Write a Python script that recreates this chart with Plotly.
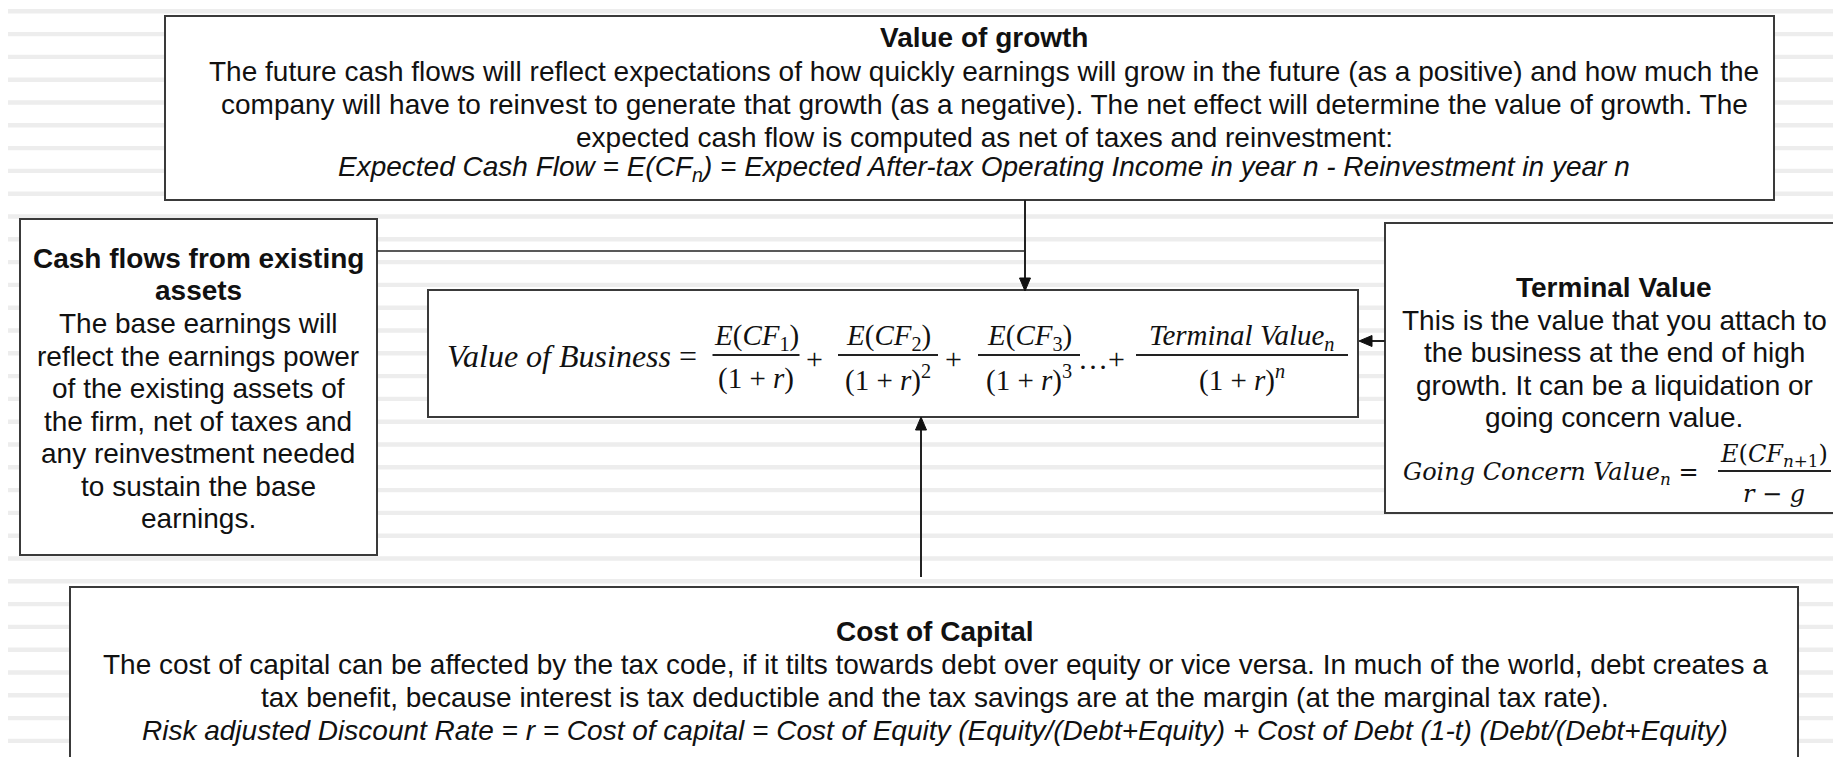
import plotly.graph_objects as go

W, H = 1841, 757

# ---------------- text content ----------------
growth_title = "Value of growth"
growth_lines = [
    "The future cash flows will reflect expectations of how quickly earnings will grow in the future (as a positive) and how much the",
    "company will have to reinvest to generate that growth (as a negative). The net effect will determine the value of growth. The",
    "expected cash flow is computed as net of taxes and reinvestment:",
]
growth_formula = "Expected Cash Flow = E(CF<sub>n</sub>) = Expected After-tax Operating Income in year n - Reinvestment in year n"

existing_title = ["Cash flows from existing", "assets"]
existing_lines = [
    "The base earnings will",
    "reflect the earnings power",
    "of the existing assets of",
    "the firm, net of taxes and",
    "any reinvestment needed",
    "to sustain the base",
    "earnings.",
]

terminal_title = "Terminal Value"
terminal_lines = [
    "This is the value that you attach to",
    "the business at the end of high",
    "growth. It can be a liquidation or",
    "going concern value.",
]
gcv_label = "<i>Going Concern Value</i><sub><i>n</i></sub> ="
gcv_num = "<i>E</i>(<i>CF</i><sub><i>n</i>+1</sub>)"
gcv_den = "<i>r</i> − <i>g</i>"

capital_title = "Cost of Capital"
capital_lines = [
    "The cost of capital can be affected by the tax code, if it tilts towards debt over equity or vice versa. In much of the world, debt creates a",
    "tax benefit, because interest is tax deductible and the tax savings are at the margin (at the marginal tax rate).",
]
capital_formula = "Risk adjusted Discount Rate = r = Cost of capital = Cost of Equity (Equity/(Debt+Equity) + Cost of Debt (1-t) (Debt/(Debt+Equity)"

vob_label = "<i>Value of Business</i> ="
vob_nums = ["<i>E</i>(<i>CF</i><sub>1</sub>)", "<i>E</i>(<i>CF</i><sub>2</sub>)",
            "<i>E</i>(<i>CF</i><sub>3</sub>)", "<i>Terminal Value</i><sub><i>n</i></sub>"]
vob_dens = ["(1 + <i>r</i>)", "(1 + <i>r</i>)<sup>2</sup>", "(1 + <i>r</i>)<sup>3</sup>", "(1 + <i>r</i>)<sup><i>n</i></sup>"]
vob_ops = ["+", "+", "…+"]

# ---------------- geometry / style ----------------
boxes = {
    "growth": (157, 8, 1766, 192),
    "existing": (12, 211, 369, 547),
    "center": (420, 282, 1350, 409),
    "terminal": (1377, 215, 1833, 505),
    "capital": (62, 579, 1790, 790),
}
SANS = "Liberation Sans, Arial, Helvetica, sans-serif"
SERIF = "Liberation Serif, Times New Roman, serif"
DSERIF = "DejaVu Serif, serif"
TXT = "#111111"
EDGE = "#3a3a3a"
FS = 28

fig = go.Figure()
shapes = []
ann = []

# striped background
y = 3.3
while y < H + 5:
    shapes.append(dict(type="rect", xref="x", yref="y", x0=0, x1=W, y0=y - 2.2, y1=y + 2.2,
                       fillcolor="#ededed", line=dict(width=0), layer="below"))
    y += 22.8

# boxes
for k, (x0, y0, x1, y1) in boxes.items():
    shapes.append(dict(type="rect", xref="x", yref="y", x0=x0, x1=x1, y0=y0, y1=y1,
                       fillcolor="white", line=dict(color=EDGE, width=2), layer="below"))


def text(x, y, s, size=FS, bold=False, italic=False, family=SANS, anchor="center", yanchor="middle"):
    ann.append(dict(x=x, y=y, xref="x", yref="y", text=s, showarrow=False,
                    xanchor=anchor, yanchor=yanchor,
                    font=dict(family=family, size=size, color=TXT,
                              weight="bold" if bold else "normal",
                              style="italic" if italic else "normal")))


def hline(x0, x1, y, width=2, color="#222222"):
    shapes.append(dict(type="line", xref="x", yref="y", x0=x0, x1=x1, y0=y, y1=y,
                       line=dict(color=color, width=width), layer="above"))


def vline(x, y0, y1, width=2, color="#222222"):
    shapes.append(dict(type="line", xref="x", yref="y", x0=x, x1=x, y0=y0, y1=y1,
                       line=dict(color=color, width=width), layer="above"))


def head(path):
    shapes.append(dict(type="path", xref="x", yref="y", path=path, fillcolor="#111111",
                       line=dict(color="#111111", width=1), layer="above"))


# top box
gx = 976
text(gx, 29, growth_title, bold=True)
for yy, s in zip([63, 96, 129], growth_lines):
    text(gx, yy, s)
text(gx, 160, growth_formula, italic=True)

# left box
lx = 190
for yy, s in zip([250, 282], existing_title):
    text(lx, yy, s, bold=True)
for yy, s in zip([315, 348, 380, 413, 445, 478, 510], existing_lines):
    text(lx, yy, s)

# right box
rx = 1606
text(rx, 279, terminal_title, bold=True)
for yy, s in zip([312, 344, 377, 409], terminal_lines):
    text(rx, yy, s)
text(1543, 465, gcv_label, size=24, family=DSERIF)
hline(1710, 1823, 463, width=2)
text(1766, 447, gcv_num, size=24, family=DSERIF)
text(1766, 486, gcv_den, size=24, family=DSERIF)

# bottom box
bx = 927
text(bx, 623, capital_title, bold=True)
for yy, s in zip([656, 689], capital_lines):
    text(bx, yy, s)
text(bx, 722, capital_formula, italic=True)

# center formula
text(564, 348, vob_label, size=32, family=SERIF)
frac_cx = [748, 880, 1021, 1234]
frac_w = [87, 100, 102, 212]
for cx, w, n, d in zip(frac_cx, frac_w, vob_nums, vob_dens):
    hline(cx - w / 2, cx + w / 2, 347, width=2)
    text(cx, 329, n, size=29, family=SERIF)
    text(cx, 370, d, size=29, family=SERIF)
for ox, o in zip([806, 945, 1093], vob_ops):
    text(ox, 350, o, size=30, family=SERIF)

# connectors
vline(1017, 192, 272)
head("M 1017 283 L 1011.5 270 L 1022.5 270 Z")
hline(369, 1017, 243, width=1.5)
hline(1364, 1377, 333)
head("M 1351 333 L 1364 327.5 L 1364 338.5 Z")
vline(913, 569, 420)
head("M 913 409 L 907.5 422 L 918.5 422 Z")

fig.update_layout(
    width=W, height=H, margin=dict(l=0, r=0, t=0, b=0),
    paper_bgcolor="white", plot_bgcolor="white",
    xaxis=dict(range=[0, W], visible=False, fixedrange=True),
    yaxis=dict(range=[H, 0], visible=False, fixedrange=True),
    shapes=shapes, annotations=ann, showlegend=False,
)
fig.write_html("out.html", config={"displayModeBar": False})
